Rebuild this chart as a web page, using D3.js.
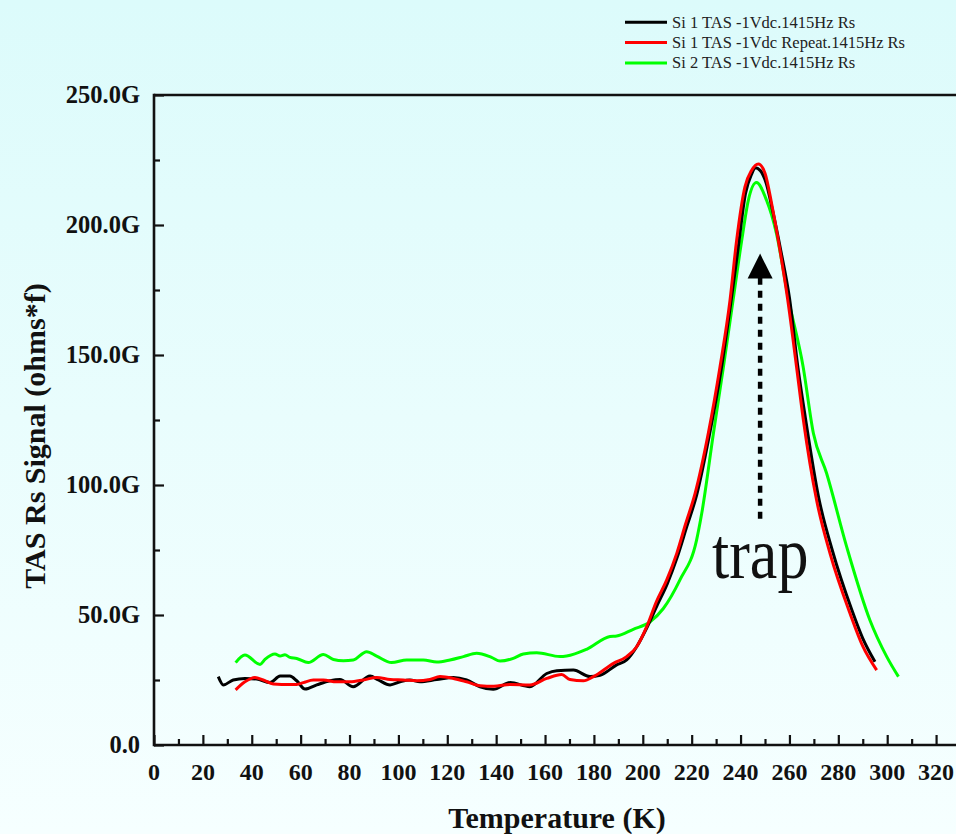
<!DOCTYPE html>
<html>
<head>
<meta charset="utf-8">
<script src="https://cdn.jsdelivr.net/npm/d3@7"></script>
<style>
  html, body { margin: 0; padding: 0; }
  body { width: 956px; height: 834px; overflow: hidden; }
  svg { display: block; }
  text { font-family: "Liberation Serif", "Times New Roman", serif; }
</style>
</head>
<body>
<svg id="chart" width="956" height="834"></svg>
<script>
// Temperature sweeps (K) and TAS Rs signal (G ohms*f) for each run
const tempSi1 = [26.3, 28.4, 32.4, 37.2, 42, 47.5, 51.6, 55.6, 58.4, 61.8, 66.6, 72, 76.1, 81.5, 88.4, 91.8, 96.6, 100.7, 104.7, 108.8, 115.7, 122.5, 127.9, 133.4, 138.8, 145.7, 153.8, 160.7, 164.8, 171.6, 178.4, 182.5, 189.3, 193.4, 197.5, 201.6, 206, 210, 214, 218, 222, 227, 232, 236, 239, 242, 244.5, 246, 248, 250.5, 253, 256.5, 260, 263.5, 266.5, 272, 277.5, 285.5, 290, 295];
const sigSi1 = [26.3, 23.1, 25, 25.6, 25.4, 24, 26.5, 26.5, 24.7, 21.5, 23.1, 24.7, 25.2, 22.4, 26.5, 25, 23.1, 24.3, 25, 24.3, 25.2, 26, 25, 22.4, 21.4, 24, 22.4, 27.5, 28.6, 28.8, 26.3, 26.8, 30.8, 32.7, 37.8, 45, 54, 62, 72, 84, 96, 118, 144, 170, 191, 212, 219.5, 222, 221, 216, 206, 190, 172, 145, 126, 95, 75, 52, 41, 32];

const tempSi1Repeat = [33.4, 37.2, 41.3, 44.7, 48.8, 55.6, 58.4, 61.1, 65.2, 69.3, 74.7, 80.2, 85.6, 91.1, 96.6, 102, 107.4, 112.9, 117, 122.5, 127.9, 133.4, 139, 145.7, 153.8, 160.7, 166.8, 170.2, 175.7, 179.8, 188, 193.4, 197.5, 201.6, 205.5, 209.8, 213.9, 217.5, 221.4, 226.8, 231.6, 235.7, 238.4, 241.8, 244.5, 247.3, 250, 252.7, 256.1, 259.3, 262.9, 265.7, 271.1, 276.6, 284.8, 290, 295.7];
const sigSi1Repeat = [21.2, 24.3, 26, 25, 23.5, 23.3, 23.3, 24, 25, 25, 24.3, 24.3, 25, 26, 25.2, 25, 24.7, 25.2, 26.3, 25.6, 24.3, 22.8, 22.6, 23.3, 23.1, 25.6, 27.1, 25.2, 24.7, 26.3, 31.4, 34, 37.8, 45.5, 55, 63.5, 73.7, 85, 96.8, 119.9, 145.5, 171.2, 194.2, 214.7, 221, 223.5, 219.9, 208.3, 190.4, 171.2, 145.5, 125, 94.2, 73.7, 50.6, 38, 28.8];

const tempSi2 = [33.4, 37.2, 43.4, 45.4, 49.5, 51.6, 53.6, 55.6, 58.4, 63.1, 69.3, 73.4, 77.5, 81.5, 87, 91.1, 97.2, 103.4, 110.2, 115.7, 121.1, 126.6, 132, 138.1, 141.6, 147, 151.1, 156.6, 166.1, 168.8, 177, 186.6, 189.3, 196.1, 203, 208.4, 215.2, 222, 224.1, 228.9, 233, 237, 240.5, 243.2, 246.5, 250.6, 254.7, 259.5, 265.6, 269.8, 275.2, 283.4, 292.9, 299.8, 304.6];
const sigSi2 = [31.7, 34.6, 31, 32.9, 35, 34.2, 34.7, 33.7, 33.3, 31.7, 34.8, 32.9, 32.4, 32.7, 35.9, 34.2, 31.7, 32.7, 32.7, 31.9, 32.7, 34, 35.3, 33.7, 32.3, 33.3, 35, 35.5, 34, 34.2, 36.8, 41.7, 41.9, 44.5, 47.4, 52.5, 63.5, 78.8, 89, 119.9, 145.5, 171.5, 194.2, 209.6, 216.3, 209.6, 196.7, 172, 145.5, 119.9, 104.5, 76.3, 48.1, 34, 26.3];

const seriesNames = ["Si 1 TAS -1Vdc.1415Hz Rs", "Si 1 TAS -1Vdc Repeat.1415Hz Rs", "Si 2 TAS -1Vdc.1415Hz Rs"];
const seriesColors = ["#000000", "#ff0000", "#00ff00"];

const xTickValues = [0, 20, 40, 60, 80, 100, 120, 140, 160, 180, 200, 220, 240, 260, 280, 300, 320];
const yTickValues = [0, 50, 100, 150, 200, 250];
const yTickLabels = ["0.0", "50.0G", "100.0G", "150.0G", "200.0G", "250.0G"];

const xTitle = "Temperature (K)";
const yTitle = "TAS Rs Signal (ohms*f)";
const annotationText = "trap";
const arrowTemp = 248;      // arrow points up at the peak
const arrowFrom = 87;       // signal level of arrow tail
const arrowTo = 189;        // signal level of arrow tip

(function draw() {
  const W = 956, H = 834;
  const plotLeft = 154, plotTop = 95, plotBottom = 745;
  const svg = d3.select("#chart");

  // page background: pale cyan fading to near white
  const defs = svg.append("defs");
  const grad = defs.append("linearGradient").attr("id", "bg")
    .attr("x1", 0).attr("y1", 0).attr("x2", 0).attr("y2", 1);
  grad.append("stop").attr("offset", "0%").attr("stop-color", "#dcfbfb");
  grad.append("stop").attr("offset", "100%").attr("stop-color", "#f6ffff");
  svg.append("rect").attr("width", W).attr("height", H).attr("fill", "url(#bg)");

  const x = d3.scaleLinear().domain([0, 330]).range([plotLeft, plotLeft + 330 * 2.444]);
  const y = d3.scaleLinear().domain([0, 250]).range([plotBottom, plotTop]);

  // ---- series ----
  const series = [
    { t: tempSi2, v: sigSi2, color: seriesColors[2] },
    { t: tempSi1, v: sigSi1, color: seriesColors[0] },
    { t: tempSi1Repeat, v: sigSi1Repeat, color: seriesColors[1] }
  ];
  const line = d3.line().x(d => x(d[0])).y(d => y(d[1])).curve(d3.curveMonotoneX);
  series.forEach(s => {
    svg.append("path")
      .datum(s.t.map((t, i) => [t, s.v[i]]))
      .attr("d", line)
      .attr("fill", "none")
      .attr("stroke", s.color)
      .attr("stroke-width", 3)
      .attr("stroke-linejoin", "round");
  });

  // ---- axes (ticks pointing inward) ----
  const axisColor = "#111";
  const xAxisG = svg.append("g").attr("transform", `translate(0,${plotBottom})`)
    .call(d3.axisTop(x).tickValues(d3.range(0, 331, 10)).tickSize(6).tickFormat(""));
  xAxisG.selectAll(".tick line")
    .attr("y2", d => (d % 20 === 0 ? -10 : -6));
  const yAxisG = svg.append("g").attr("transform", `translate(${plotLeft},0)`)
    .call(d3.axisRight(y).tickValues(d3.range(0, 251, 25)).tickSize(6).tickFormat(""));
  yAxisG.selectAll(".tick line")
    .attr("x2", d => (d % 50 === 0 ? 10 : 6));
  [xAxisG, yAxisG].forEach(g => {
    g.select(".domain").remove();
    g.selectAll(".tick line").attr("stroke", axisColor).attr("stroke-width", 2.2);
  });
  // axis lines and top frame
  svg.append("line").attr("x1", plotLeft).attr("x2", W + 5).attr("y1", plotBottom).attr("y2", plotBottom)
    .attr("stroke", axisColor).attr("stroke-width", 2.6);
  svg.append("line").attr("x1", plotLeft).attr("x2", W + 5).attr("y1", plotTop).attr("y2", plotTop)
    .attr("stroke", axisColor).attr("stroke-width", 2.6);
  svg.append("line").attr("x1", plotLeft).attr("x2", plotLeft).attr("y1", plotTop - 1.3).attr("y2", plotBottom + 1.3)
    .attr("stroke", axisColor).attr("stroke-width", 2.6);

  // tick labels
  svg.append("g").selectAll("text").data(xTickValues).join("text")
    .attr("x", d => x(d)).attr("y", 780)
    .attr("text-anchor", "middle")
    .attr("font-size", 24).attr("font-weight", "bold").attr("fill", "#111")
    .text(d => d);
  svg.append("g").selectAll("text").data(yTickValues).join("text")
    .attr("x", 140).attr("y", d => y(d) + 8.3)
    .attr("text-anchor", "end")
    .attr("font-size", 24.5).attr("font-weight", "bold").attr("fill", "#111")
    .text((d, i) => yTickLabels[i]);

  // axis titles
  svg.append("text")
    .attr("x", 557).attr("y", 828)
    .attr("text-anchor", "middle")
    .attr("font-size", 30).attr("font-weight", "bold").attr("fill", "#111")
    .text(xTitle);
  svg.append("text")
    .attr("transform", "translate(45,436) rotate(-90)")
    .attr("text-anchor", "middle")
    .attr("font-size", 30).attr("font-weight", "bold").attr("fill", "#111")
    .text(yTitle);

  // ---- legend ----
  const legend = svg.append("g");
  seriesNames.forEach((name, i) => {
    const ly = 22.3 + i * 20.3;
    legend.append("line")
      .attr("x1", 625).attr("x2", 667).attr("y1", ly).attr("y2", ly)
      .attr("stroke", seriesColors[i]).attr("stroke-width", 3);
    legend.append("text")
      .attr("x", 672).attr("y", ly + 5.3)
      .attr("font-size", 16.5).attr("fill", "#222")
      .text(name);
  });

  // ---- annotation: dashed arrow and label ----
  const ax = x(arrowTemp);
  const tipY = y(arrowTo);
  const headLen = 25, headHalf = 12.5;
  svg.append("line")
    .attr("x1", ax).attr("x2", ax)
    .attr("y1", y(arrowFrom)).attr("y2", tipY + headLen - 2)
    .attr("stroke", "#000").attr("stroke-width", 4.5)
    .attr("stroke-dasharray", "7,6");
  svg.append("path")
    .attr("d", `M${ax},${tipY} L${ax - headHalf},${tipY + headLen} L${ax + headHalf},${tipY + headLen} Z`)
    .attr("fill", "#000");
  svg.append("text")
    .attr("transform", `translate(712,578) scale(1,1.15)`)
    .attr("font-size", 62).attr("fill", "#111")
    .text(annotationText);
})();
</script>
</body>
</html>
